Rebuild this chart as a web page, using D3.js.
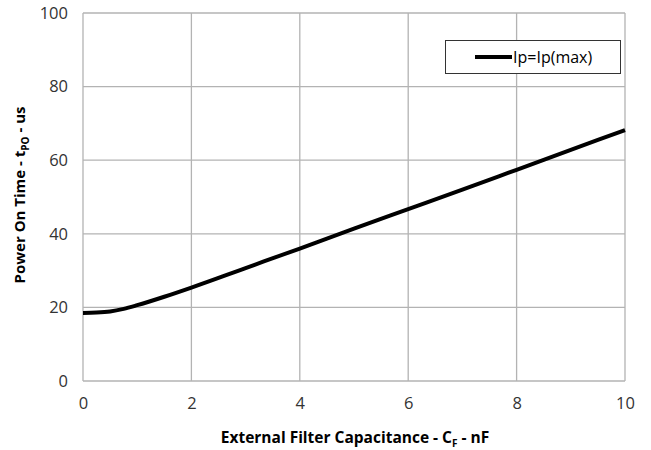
<!DOCTYPE html>
<html>
<head>
<meta charset="utf-8">
<script src="https://cdn.jsdelivr.net/npm/d3@7"></script>
<style>
  body { margin: 0; background: #fff; }
  text { font-family: "Open Sans", "Noto Sans", sans-serif; }
</style>
</head>
<body>
<div id="chart"></div>
<script>
// data
var capNF = [0, 0.25, 0.5, 0.75, 1, 1.5, 2, 3, 4, 5, 6, 7, 8, 9, 10];
var tPO   = [18.5, 18.6, 18.9, 19.6, 20.6, 22.9, 25.4, 30.7, 36.0, 41.4, 46.7, 52.0, 57.4, 62.8, 68.2];
var xTicks = [0, 2, 4, 6, 8, 10];
var yTicks = [0, 20, 40, 60, 80, 100];
var seriesName = "Ip=Ip(max)";

var W = 651, H = 450;
var m = {left: 83, right: 26, top: 13, bottom: 69};

var svg = d3.select("#chart").append("svg")
    .attr("width", W)
    .attr("height", H);

var x = d3.scaleLinear().domain([0, 10]).range([m.left, W - m.right]);
var y = d3.scaleLinear().domain([0, 100]).range([H - m.bottom, m.top]);

// grid
svg.append("g").selectAll("line").data(xTicks).enter().append("line")
    .attr("x1", function(d){ return x(d); })
    .attr("x2", function(d){ return x(d); })
    .attr("y1", y(0)).attr("y2", y(100))
    .style("stroke", "#b3b3b3").style("stroke-width", 1.3);
svg.append("g").selectAll("line").data(yTicks).enter().append("line")
    .attr("x1", x(0)).attr("x2", x(10))
    .attr("y1", function(d){ return y(d); })
    .attr("y2", function(d){ return y(d); })
    .style("stroke", "#b3b3b3").style("stroke-width", 1.3);

// axes (labels only, lines are the grid)
var xAxis = svg.append("g")
    .attr("transform", "translate(0," + (y(0) + 10) + ")")
    .call(d3.axisBottom(x).tickValues(xTicks).tickSize(0).tickPadding(6));
var yAxis = svg.append("g")
    .attr("transform", "translate(" + (x(0) - 15) + ",0)")
    .call(d3.axisLeft(y).tickValues(yTicks).tickSize(0).tickPadding(0));
[xAxis, yAxis].forEach(function(a){
    a.select(".domain").remove();
    a.selectAll("text")
        .style("font-size", "16.5px")
        .style("fill", "#333")
        .style("font-family", "'Open Sans', sans-serif");
});

// curve
var line = d3.line()
    .x(function(d, i){ return x(capNF[i]); })
    .y(function(d){ return y(d); })
    .curve(d3.curveMonotoneX);
svg.append("path")
    .datum(tPO)
    .attr("d", line)
    .style("fill", "none")
    .style("stroke", "#000")
    .style("stroke-width", 4);

// legend
var lg = svg.append("g");
lg.append("rect")
    .attr("x", 445.5).attr("y", 40.5)
    .attr("width", 175).attr("height", 33)
    .style("fill", "#fff").style("stroke", "#333").style("stroke-width", 1);
lg.append("line")
    .attr("x1", 475).attr("x2", 512)
    .attr("y1", 57).attr("y2", 57)
    .style("stroke", "#000").style("stroke-width", 4);
lg.append("text")
    .attr("x", 513).attr("y", 62.5)
    .style("font-size", "16px")
    .text(seriesName);

// axis titles
var xt = svg.append("text")
    .attr("x", 355).attr("y", 443)
    .attr("text-anchor", "middle")
    .style("font-size", "15.5px").style("font-weight", "bold");
xt.append("tspan").text("External Filter Capacitance - C");
xt.append("tspan").attr("dy", 4).style("font-size", "10px").text("F");
xt.append("tspan").attr("dy", -4).text(" - nF");

var yt = svg.append("text")
    .attr("transform", "translate(25," + 195 + ") rotate(-90)")
    .attr("text-anchor", "middle")
    .style("font-size", "15px").style("font-weight", "bold");
yt.append("tspan").text("Power On Time - t");
yt.append("tspan").attr("dy", 4).style("font-size", "10px").text("PO");
yt.append("tspan").attr("dy", -4).text(" - us");
</script>
</body>
</html>
